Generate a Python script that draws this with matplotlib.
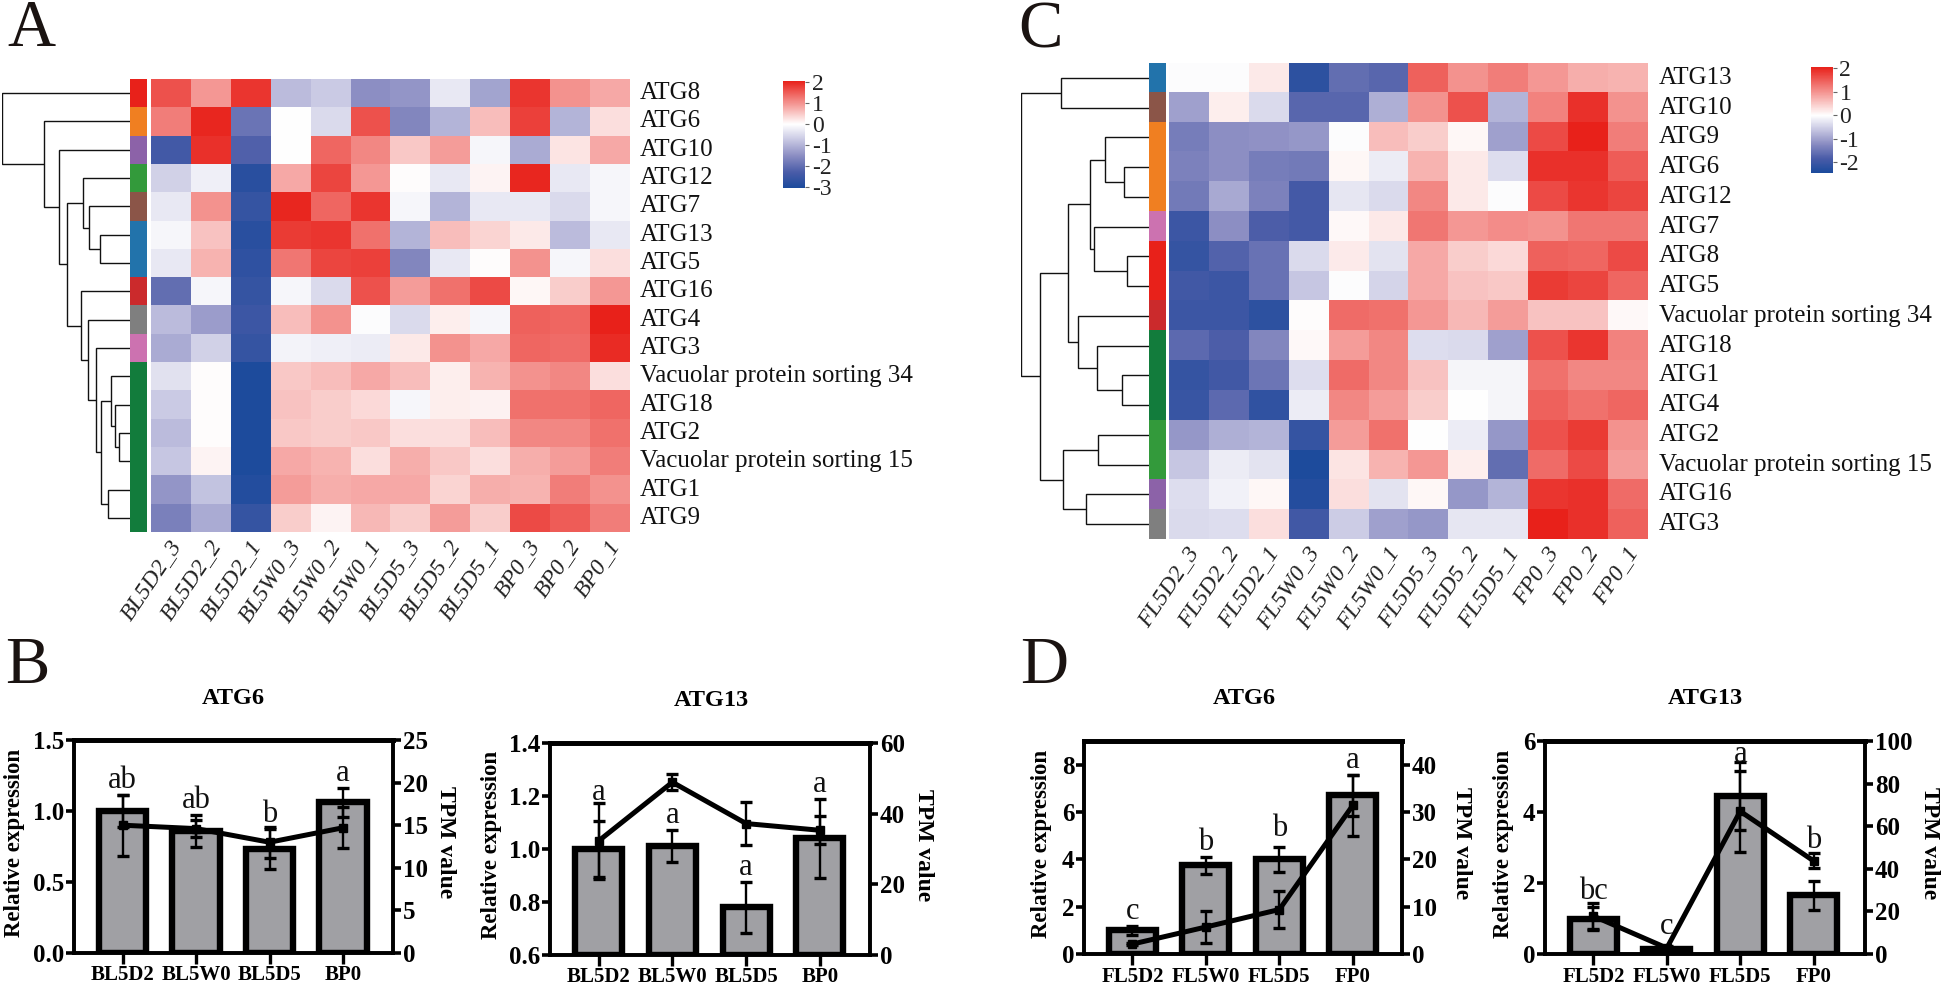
import numpy as np
import matplotlib
matplotlib.use("Agg")
import matplotlib.pyplot as plt
from matplotlib.colors import LinearSegmentedColormap, TwoSlopeNorm, ListedColormap

plt.rcParams['font.family'] = ['Liberation Serif', 'DejaVu Serif']

W, H = 1941, 986

# ---------- data: heatmap A ----------
cols_a = ['BL5D2_3','BL5D2_2','BL5D2_1','BL5W0_3','BL5W0_2','BL5W0_1','BL5D5_3','BL5D5_2','BL5D5_1','BP0_3','BP0_2','BP0_1']
rows_a = ['ATG8','ATG6','ATG10','ATG12','ATG7','ATG13','ATG5','ATG16','ATG4','ATG3',
          'Vacuolar protein sorting 34','ATG18','ATG2','Vacuolar protein sorting 15','ATG1','ATG9']
vals_a = [
 [1.6,0.95,1.85,-0.9,-0.7,-1.5,-1.4,-0.3,-1.2,1.85,1.0,0.8],
 [1.2,2.0,-1.9,0,-0.5,1.6,-1.6,-1.0,0.6,1.75,-1.0,0.3],
 [-2.4,1.9,-2.2,0,1.4,1.1,0.5,0.9,-0.1,-1.1,0.25,0.8],
 [-0.6,-0.2,-2.8,0.8,1.7,0.95,0.02,-0.3,0.1,2.0,-0.3,-0.1],
 [-0.3,1.0,-2.6,2.0,1.4,1.85,-0.1,-1.0,-0.3,-0.3,-0.5,-0.1],
 [-0.1,0.55,-2.8,1.8,1.85,1.3,-1.0,0.6,0.4,0.2,-0.9,-0.3],
 [-0.3,0.7,-2.7,1.25,1.7,1.75,-1.6,-0.3,0.02,1.0,-0.1,0.3],
 [-2.0,-0.1,-2.6,-0.1,-0.5,1.6,0.9,1.3,1.65,0.07,0.45,0.95],
 [-0.9,-1.3,-2.5,0.6,1.0,-0.03,-0.5,0.15,-0.1,1.45,1.4,2.05],
 [-1.1,-0.6,-2.6,-0.15,-0.2,-0.25,0.2,1.0,0.8,1.4,1.35,1.95],
 [-0.4,0.02,-3.0,0.5,0.6,0.8,0.6,0.15,0.7,1.0,1.1,0.3],
 [-0.7,0.02,-3.0,0.55,0.45,0.35,-0.1,0.15,0.12,1.3,1.3,1.4],
 [-0.9,0.02,-3.0,0.5,0.45,0.5,0.3,0.3,0.6,1.1,1.1,1.3],
 [-0.75,0.1,-3.0,0.8,0.7,0.3,0.75,0.5,0.3,0.75,0.9,1.2],
 [-1.4,-0.8,-2.9,0.9,0.75,0.8,0.8,0.4,0.75,0.7,1.2,1.0],
 [-1.7,-1.1,-2.6,0.45,0.1,0.65,0.45,0.9,0.45,1.65,1.5,1.2],
]
groups_a = ['#e8211a','#f07f21','#8c62a8','#339a3b','#8b5548','#2273ab','#2273ab','#cb2a2c','#7f7f7f','#cc72b0',
            '#127c3c','#127c3c','#127c3c','#127c3c','#127c3c','#127c3c']
# dendrogram as (height, left, right); integers are row indices
tree_a = (211, 0, (143, 1, (118, 2, (105,
          (77, 3, (67, 4, (50, 5, 6))),
          (81, 7, (69, 8, (57, 9, (48, (32, 10, (25, 11, (18, 12, 13))), (37, 14, 15)))))))))

# ---------- data: heatmap C ----------
cols_c = ['FL5D2_3','FL5D2_2','FL5D2_1','FL5W0_3','FL5W0_2','FL5W0_1','FL5D5_3','FL5D5_2','FL5D5_1','FP0_3','FP0_2','FP0_1']
rows_c = ['ATG13','ATG10','ATG9','ATG6','ATG12','ATG7','ATG8','ATG5','Vacuolar protein sorting 34','ATG18','ATG1','ATG4',
          'ATG2','Vacuolar protein sorting 15','ATG16','ATG3']
vals_c = [
 [-0.03,-0.03,0.2,-2.2,-1.6,-1.7,1.45,1.0,1.2,0.95,0.75,0.7],
 [-1.0,0.15,-0.4,-1.7,-1.7,-0.85,1.0,1.6,-0.8,1.15,1.9,1.0],
 [-1.4,-1.2,-1.15,-1.1,-0.02,0.6,0.45,0.08,-1.0,1.65,2.05,1.2],
 [-1.35,-1.2,-1.4,-1.45,0.08,-0.2,0.7,0.2,-0.35,1.9,1.9,1.5],
 [-1.45,-0.9,-1.35,-1.9,-0.25,-0.4,1.1,0.2,-0.03,1.65,1.85,1.7],
 [-2.0,-1.2,-1.8,-1.9,0.05,0.2,1.25,0.95,1.05,1.0,1.25,1.25],
 [-2.1,-1.75,-1.55,-0.4,0.18,-0.3,0.8,0.45,0.35,1.45,1.4,1.65],
 [-1.95,-2.0,-1.55,-0.6,-0.02,-0.45,0.8,0.55,0.5,1.8,1.7,1.4],
 [-2.0,-2.0,-2.2,0.02,1.35,1.3,0.95,0.65,0.9,0.55,0.55,0.05],
 [-1.65,-1.8,-1.3,0.05,0.9,1.1,-0.35,-0.4,-1.0,1.6,1.85,1.15],
 [-2.1,-1.95,-1.5,-0.35,1.35,1.1,0.55,-0.1,-0.1,1.3,1.1,1.1],
 [-2.05,-1.65,-2.15,-0.2,1.1,0.9,0.45,-0.01,-0.1,1.45,1.3,1.4],
 [-1.1,-0.85,-0.8,-2.1,0.9,1.3,-0.01,-0.2,-1.1,1.6,1.8,1.0],
 [-0.6,-0.2,-0.3,-2.4,0.25,0.7,0.95,0.15,-1.6,1.35,1.65,0.9],
 [-0.35,-0.15,0.08,-2.3,0.3,-0.3,0.08,-1.1,-0.8,1.85,1.9,1.35],
 [-0.4,-0.35,0.3,-1.95,-0.55,-1.0,-1.1,-0.25,-0.25,2.05,1.9,1.45],
]
groups_c = ['#2273ab','#8b5548','#f07f21','#f07f21','#f07f21','#cc72b0','#e8211a','#e8211a','#cb2a2c',
            '#127c3c','#127c3c','#127c3c','#339a3b','#339a3b','#8c62a8','#7f7f7f']
tree_c = (213, (146, 0, 1), (181,
          (135, (98, (74, 2, (41, 3, 4)), (91, 5, (37, 6, 7))),
                (118, 8, (86, 9, (45, 10, 11)))),
          (143, (85, 12, 13), (105, 14, 15))))

# ---------- data: bar panels ----------
cats_b = ['BL5D2','BL5W0','BL5D5','BP0']
cats_d = ['FL5D2','FL5W0','FL5D5','FP0']
b1_rel = [1.0,0.86,0.73,1.06];  b1_rel_err = [0.11,0.11,0.14,0.10]
b1_tpm = [15.0,14.6,13.0,14.7]; b1_tpm_err = [3.6,1.0,1.8,2.4]
b2_rel = [1.0,1.01,0.78,1.04];  b2_rel_err = [0.105,0.06,0.097,0.15]
b2_tpm = [32.3,48.9,37.2,35.3]; b2_tpm_err = [10.7,2.2,6.0,4.0]
d1_rel = [1.0,3.75,4.0,6.7];    d1_rel_err = [0.2,0.36,0.53,0.85]
d1_tpm = [2.1,5.7,9.4,31.4];    d1_tpm_err = [0.3,3.3,3.95,6.4]
d2_rel = [1.0,0.15,4.45,1.65];  d2_rel_err = [0.31,0.03,0.97,0.4]
d2_tpm = [17.8,2.8,67.0,43.7];  d2_tpm_err = [6.0,1.0,19.0,3.5]
letters_b1 = ['ab','ab','b','a']
letters_b2 = ['a','a','a','a']
letters_d1 = ['c','b','b','a']
letters_d2 = ['bc','c','a','b']

fig = plt.figure(figsize=(W/100, H/100), dpi=100, facecolor='white')

def axpx(x0, y0, x1, y1, **kw):
    return fig.add_axes([x0/W, 1-y1/H, (x1-x0)/W, (y1-y0)/H], **kw)

def tpx(x, y, s, **kw):
    return fig.text(x/W, 1-y/H, s, **kw)

cmap = LinearSegmentedColormap.from_list('bwr2', [
    (0.0, '#1a4a9c'), (0.125, '#4a5ca8'), (0.25, '#8a8cc2'), (0.375, '#c6c6e2'),
    (0.5, '#ffffff'), (1.0, '#e8211a')])

def draw_tree(ax, node):
    if isinstance(node, int):
        return node, 0
    h, l, r = node
    yl, hl = draw_tree(ax, l)
    yr, hr = draw_tree(ax, r)
    ax.plot([hl, h, h, hr], [yl, yl, yr, yr], color='#111111', lw=1.0,
            solid_joinstyle='miter', solid_capstyle='butt')
    return (yl+yr)/2, h

def heatmap(vals, rows, cols, groups, tree, box, annbox, dendbox, cbox, vmin, vmax, ticks, rowx):
    x0, y0, x1, y1 = box
    ax = axpx(x0, y0, x1, y1)
    norm = TwoSlopeNorm(vcenter=0, vmin=vmin, vmax=vmax)
    im = ax.imshow(np.array(vals), cmap=cmap, norm=norm, aspect='auto', interpolation='nearest')
    ax.set_axis_off()
    n = len(rows)
    rowh = (y1-y0)/n
    colw = (x1-x0)/len(cols)
    for i, r in enumerate(rows):
        tpx(rowx, y0+(i+0.5)*rowh, r, fontsize=18, ha='left', va='center', color='#111111')
    for j, c in enumerate(cols):
        tpx(x0+(j+0.5)*colw+6, y1+10, c, fontsize=17, style='italic', rotation=56,
            rotation_mode='anchor', ha='right', va='center', color='#222222')
    aax = axpx(*annbox)
    uniq = list(dict.fromkeys(groups))
    aax.imshow(np.array([[uniq.index(g)] for g in groups]), cmap=ListedColormap(uniq),
               vmin=-0.5, vmax=len(uniq)-0.5, aspect='auto', interpolation='nearest')
    aax.set_axis_off()
    dax = axpx(dendbox[0], y0, dendbox[1], y1)
    draw_tree(dax, tree)
    dax.set_xlim(tree[0], 0)
    dax.set_ylim(n-0.5, -0.5)
    dax.set_axis_off()
    cax = axpx(*cbox)
    cb = fig.colorbar(im, cax=cax)
    cax.set_yscale('linear')
    cb.set_ticks(ticks)
    cb.set_ticklabels([str(t) for t in ticks])
    cb.outline.set_visible(False)
    cax.tick_params(length=3, width=0.8, color='#666666', labelsize=17, pad=2, labelcolor='#222222')

heatmap(vals_a, rows_a, cols_a, groups_a, tree_a, (151, 79, 630, 532), (130, 79, 147, 532),
        (2.4, 130), (783, 81, 805, 188), -3.05, 2.05, [2, 1, 0, -1, -2, -3], 640)
heatmap(vals_c, rows_c, cols_c, groups_c, tree_c, (1169, 63, 1648, 539), (1149, 63, 1166, 539),
        (1021, 1149), (1811, 67, 1832.5, 173), -2.45, 2.05, [2, 1, 0, -1, -2], 1659)

def barpanel(box, cats, rel, rel_err, tpm, tpm_err, letters, ylim, yt, y2lim, y2t, xlim, ylab_x, y2lab_x,
             title, title_x, title_y, letter_pad, yfmt):
    x0, y0, x1, y1 = box
    ax = axpx(x0, y0, x1, y1)
    xs = np.arange(len(cats))
    ax.bar(xs, np.array(rel)-ylim[0], bottom=ylim[0], width=0.64, color='#a0a0a4', edgecolor='black', linewidth=4.6, zorder=2)
    ax.errorbar(xs, rel, yerr=rel_err, fmt='none', ecolor='black', elinewidth=1.7, capsize=4, capthick=2.4, zorder=3)
    ax.set_xlim(*xlim)
    ax.set_ylim(*ylim)
    ax.set_xticks(xs)
    ax.set_xticklabels(cats, fontsize=15, fontweight='bold')
    ax.set_yticks(yt)
    ax.set_yticklabels([yfmt % t for t in yt], fontsize=18, fontweight='bold')
    ax.tick_params(axis='x', length=8, width=2.4, pad=1)
    ax.tick_params(axis='y', length=6, width=2.6, pad=1)
    ax2 = ax.twinx()
    ax2.errorbar(xs, tpm, yerr=tpm_err, fmt='none', ecolor='black', elinewidth=1.7, capsize=4, capthick=2.4, zorder=4)
    ax2.plot(xs, tpm, color='black', lw=3.6, marker='s', ms=5.5, zorder=5)
    ax2.set_ylim(*y2lim)
    ax2.set_yticks(y2t)
    ax2.set_yticklabels([str(t) for t in y2t], fontsize=18, fontweight='bold')
    ax2.tick_params(axis='y', length=6, width=2.6, pad=1)
    for a in (ax, ax2):
        for k in ('left', 'right', 'bottom'):
            a.spines[k].set_linewidth(2.6)
        a.spines['top'].set_linewidth(3.4)
    cy = (y0+y1)/2 - 4
    tpx(ylab_x, cy, 'Relative expression', rotation=90, fontsize=16.5, fontweight='bold', ha='center', va='center')
    tpx(y2lab_x, cy, 'TPM value', rotation=270, fontsize=17, fontweight='bold', ha='center', va='center')
    tpx(title_x, title_y, title, fontsize=17.5, fontweight='bold', ha='center', va='center')
    for i, l in enumerate(letters):
        ax.annotate(l, (xs[i], rel[i]+rel_err[i]), xytext=(0, letter_pad[i]), textcoords='offset points',
                    ha='center', va='bottom', fontsize=22, color='#111111', zorder=6)

barpanel((74, 740, 393, 953), cats_b, b1_rel, b1_rel_err, b1_tpm, b1_tpm_err, letters_b1,
         (0, 1.5), [0, 0.5, 1.0, 1.5], (0, 25), [0, 5, 10, 15, 20, 25], (-0.66, 3.68), 15, 445,
         'ATG6', 233, 698, [0, 0, 0, 0], '%.1f')
barpanel((550, 743, 870, 955), cats_b, b2_rel, b2_rel_err, b2_tpm, b2_tpm_err, letters_b2,
         (0.6, 1.4), [0.6, 0.8, 1.0, 1.2, 1.4], (0, 60), [0, 20, 40, 60], (-0.66, 3.68), 492, 924,
         'ATG13', 711, 700, [10, 0, 0, 0], '%.1f')
barpanel((1084, 741, 1402, 954), cats_d, d1_rel, d1_rel_err, d1_tpm, d1_tpm_err, letters_d1,
         (0, 9), [0, 2, 4, 6, 8], (0, 45), [0, 10, 20, 30, 40], (-0.66, 3.67), 1042, 1461,
         'ATG6', 1244, 698, [0, 0, 3, 0], '%d')
barpanel((1545, 741, 1865, 954), cats_d, d2_rel, d2_rel_err, d2_tpm, d2_tpm_err, letters_d2,
         (0, 6), [0, 2, 4, 6], (0, 100), [0, 20, 40, 60, 80, 100], (-0.66, 3.7), 1503, 1930,
         'ATG13', 1705, 698, [1, 5, -5, 19], '%d')

for s, x, y in [('A', 7, 46), ('B', 5, 683), ('C', 1018, 47), ('D', 1020, 683)]:
    tpx(x, y, s, fontsize=48, ha='left', va='baseline', color='#1a1311')

fig.savefig('out.png', dpi=100, facecolor='white')
